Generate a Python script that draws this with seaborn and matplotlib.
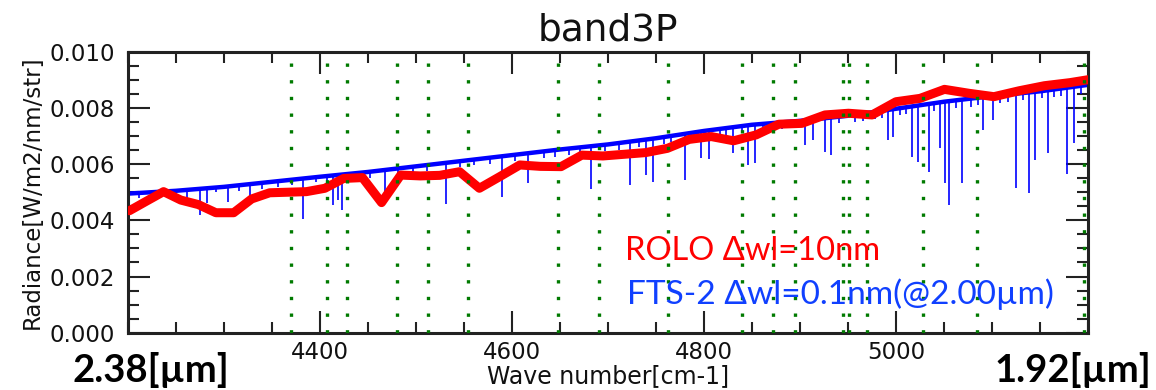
import matplotlib
matplotlib.use('Agg')
import numpy as np
import pandas as pd
import matplotlib.pyplot as plt
import seaborn as sns
from matplotlib.ticker import MultipleLocator, FormatStrFormatter

# ROLO model, 10 nm steps (wave number cm-1 / radiance)
rolo_wn = [4201.7, 4219.4, 4237.3, 4255.3, 4273.5, 4291.8, 4310.3, 4329.0, 4347.8, 4366.8,
           4386.0, 4405.3, 4424.8, 4444.4, 4464.3, 4484.3, 4504.5, 4524.9, 4545.5, 4566.2,
           4587.2, 4608.3, 4629.6, 4651.2, 4672.9, 4694.8, 4717.0, 4739.3, 4761.9, 4784.7,
           4807.7, 4830.9, 4854.4, 4878.0, 4902.0, 4926.1, 4950.5, 4975.1, 5000.0, 5025.1,
           5050.5, 5076.1, 5102.0, 5128.2, 5154.6, 5181.3, 5208.3]
rolo_rad = [0.00434, 0.00468, 0.00502, 0.00472, 0.00456, 0.00427, 0.00427, 0.00476, 0.00498, 0.00500,
            0.00502, 0.00514, 0.00549, 0.00552, 0.00463, 0.00561, 0.00558, 0.00560, 0.00573, 0.00514,
            0.00555, 0.00597, 0.00592, 0.00591, 0.00632, 0.00629, 0.00635, 0.00641, 0.00656, 0.00688,
            0.00698, 0.00683, 0.00704, 0.00742, 0.00745, 0.00775, 0.00781, 0.00775, 0.00822, 0.00834,
            0.00866, 0.00852, 0.00840, 0.00861, 0.00879, 0.00890, 0.00905]

# FTS-2 continuum (upper envelope of the spectrum)
fts_wn = [4200, 4250, 4300, 4350, 4400, 4450, 4500, 4550, 4575, 4600, 4650, 4700,
          4750, 4800, 4850, 4900, 4950, 5000, 5050, 5100, 5150, 5200]
fts_rad = [0.00495, 0.00505, 0.00519, 0.00537, 0.00555, 0.00572, 0.00592, 0.00612, 0.00622, 0.00632,
           0.00652, 0.00670, 0.00692, 0.00718, 0.00740, 0.00754, 0.00772, 0.00797, 0.00822, 0.00842,
           0.00859, 0.00882]

# FTS-2 absorption lines: position, top, bottom
dip_wn = [4212, 4228, 4246, 4262, 4275, 4283, 4292, 4304, 4316, 4327, 4340, 4356, 4371, 4383,
          4396, 4408, 4414, 4419, 4423, 4437, 4452, 4468, 4481, 4497, 4512, 4531, 4546, 4561,
          4577, 4590, 4603, 4617, 4633, 4645, 4660, 4671, 4682, 4697, 4712, 4723, 4732, 4740,
          4747, 4758, 4766, 4780, 4790, 4797, 4805, 4817, 4823, 4830, 4840, 4846, 4853, 4862,
          4870, 4881, 4890, 4905, 4914, 4926, 4932, 4941, 4957, 4966, 4978, 4985, 4992, 4997,
          5004, 5010, 5017, 5023, 5034, 5040, 5046, 5051, 5055, 5062, 5069, 5078, 5085, 5091,
          5101, 5108, 5117, 5125, 5132, 5139, 5145, 5152, 5158, 5165, 5172, 5178, 5185, 5193]
dip_top = [0.00497, 0.00501, 0.00504, 0.00508, 0.00512, 0.00514, 0.00517, 0.00520, 0.00524, 0.00528,
           0.00532, 0.00538, 0.00544, 0.00548, 0.00553, 0.00557, 0.00560, 0.00561, 0.00562, 0.00567,
           0.00572, 0.00578, 0.00584, 0.00590, 0.00596, 0.00604, 0.00611, 0.00616, 0.00620, 0.00626,
           0.00630, 0.00636, 0.00642, 0.00647, 0.00653, 0.00657, 0.00661, 0.00668, 0.00674, 0.00679,
           0.00683, 0.00687, 0.00690, 0.00695, 0.00700, 0.00707, 0.00712, 0.00716, 0.00720, 0.00726,
           0.00729, 0.00731, 0.00735, 0.00738, 0.00741, 0.00744, 0.00747, 0.00749, 0.00751, 0.00756,
           0.00758, 0.00764, 0.00766, 0.00769, 0.00774, 0.00779, 0.00785, 0.00790, 0.00793, 0.00796,
           0.00799, 0.00802, 0.00805, 0.00808, 0.00813, 0.00816, 0.00819, 0.00821, 0.00823, 0.00825,
           0.00828, 0.00832, 0.00835, 0.00837, 0.00841, 0.00844, 0.00847, 0.00850, 0.00852, 0.00854,
           0.00856, 0.00858, 0.00860, 0.00863, 0.00866, 0.00869, 0.00872, 0.00876]
dip_bot = [0.00478, 0.00485, 0.00488, 0.00480, 0.00419, 0.00462, 0.00500, 0.00465, 0.00505, 0.00472,
           0.00512, 0.00518, 0.00527, 0.00405, 0.00536, 0.00520, 0.00454, 0.00472, 0.00437, 0.00545,
           0.00552, 0.00501, 0.00560, 0.00570, 0.00575, 0.00458, 0.00590, 0.00596, 0.00600, 0.00482,
           0.00610, 0.00532, 0.00620, 0.00626, 0.00632, 0.00638, 0.00511, 0.00646, 0.00652, 0.00526,
           0.00660, 0.00561, 0.00536, 0.00672, 0.00678, 0.00543, 0.00690, 0.00622, 0.00618, 0.00702,
           0.00698, 0.00640, 0.00710, 0.00597, 0.00604, 0.00720, 0.00722, 0.00725, 0.00728, 0.00668,
           0.00686, 0.00643, 0.00632, 0.00745, 0.00750, 0.00755, 0.00760, 0.00765, 0.00686, 0.00697,
           0.00775, 0.00780, 0.00625, 0.00607, 0.00572, 0.00790, 0.00657, 0.00533, 0.00454, 0.00800,
           0.00533, 0.00805, 0.00812, 0.00721, 0.00757, 0.00818, 0.00822, 0.00515, 0.00828, 0.00497,
           0.00615, 0.00835, 0.00640, 0.00838, 0.00842, 0.00565, 0.00675, 0.00848]

# band markers (green dotted)
mark_wn = [4370, 4407, 4428, 4480, 4513, 4554, 4648, 4691, 4763, 4840, 4872, 4895,
           4945, 4951, 4970, 5028, 5084, 5196]

rolo = pd.DataFrame({'wn': rolo_wn, 'rad': rolo_rad})
fts = pd.DataFrame({'wn': fts_wn, 'rad': fts_rad})

sns.set_theme(style='ticks')
plt.rcParams['font.family'] = ['DejaVu Sans']

fig = plt.figure(figsize=(11.56, 3.9), dpi=100)
ax = fig.add_axes([0.1105, 0.1469, 0.8307, 0.7205])

sns.lineplot(data=fts, x='wn', y='rad', ax=ax, color='#0000ff', lw=3.2, sort=False,
             estimator=None, zorder=2)
ax.vlines(dip_wn, dip_bot, dip_top, color='#0000ff', lw=1.2, zorder=2)
sns.lineplot(data=rolo, x='wn', y='rad', ax=ax, color='#ff0000', lw=6.5, sort=False,
             estimator=None, zorder=3)
for w in mark_wn:
    ax.axvline(w, color='#007a00', lw=2.4, ls=(0, (1, 4.0)), dash_capstyle='butt', zorder=4)

ax.set_xlim(4200, 5200)
ax.set_ylim(0, 0.010)
ax.set_xticks([4400, 4600, 4800, 5000])
ax.set_yticks([0, 0.002, 0.004, 0.006, 0.008, 0.010])
ax.xaxis.set_minor_locator(MultipleLocator(50))
ax.yaxis.set_minor_locator(MultipleLocator(0.0005))
ax.yaxis.set_major_formatter(FormatStrFormatter('%.3f'))
ax.tick_params(which='both', direction='in', top=True, right=True, width=1.5,
               color='#222222', labelsize=16.5, labelcolor='#111111')
ax.tick_params(axis='x', which='major', length=16, pad=6)
ax.tick_params(axis='y', which='major', length=16, pad=9)
ax.tick_params(which='minor', length=8)
for s in ax.spines.values():
    s.set_linewidth(2.2)
    s.set_color('#222222')

ax.set_title('band3P', fontsize=27, pad=8, color='#111111')
ax.set_xlabel('Wave number[cm-1]', fontsize=17, labelpad=0, color='#111111')
ax.set_ylabel('Radiance[W/m2/nm/str]', fontsize=16.5, labelpad=4, color='#111111')

fig.text(0.5407, 0.3564, 'ROLO \u0394wl=10nm', color='#ff0000', fontsize=23.5,
         family=['Lato', 'DejaVu Sans'], va='center', ha='left')
fig.text(0.5424, 0.2462, 'FTS-2 \u0394wl=0.1nm(@2.00\u00b5m)', color='#1040ff', fontsize=24,
         family=['Lato', 'DejaVu Sans'], va='center', ha='left')
fig.text(0.0631, 0.0513, '2.38[\u00b5m]', fontsize=27.5, fontweight='bold',
         family=['Lato', 'DejaVu Sans'], va='center', ha='left', color='black')
fig.text(0.8607, 0.0513, '1.92[\u00b5m]', fontsize=27.5, fontweight='bold',
         family=['Lato', 'DejaVu Sans'], va='center', ha='left', color='black')

fig.savefig('out.png', dpi=100)
